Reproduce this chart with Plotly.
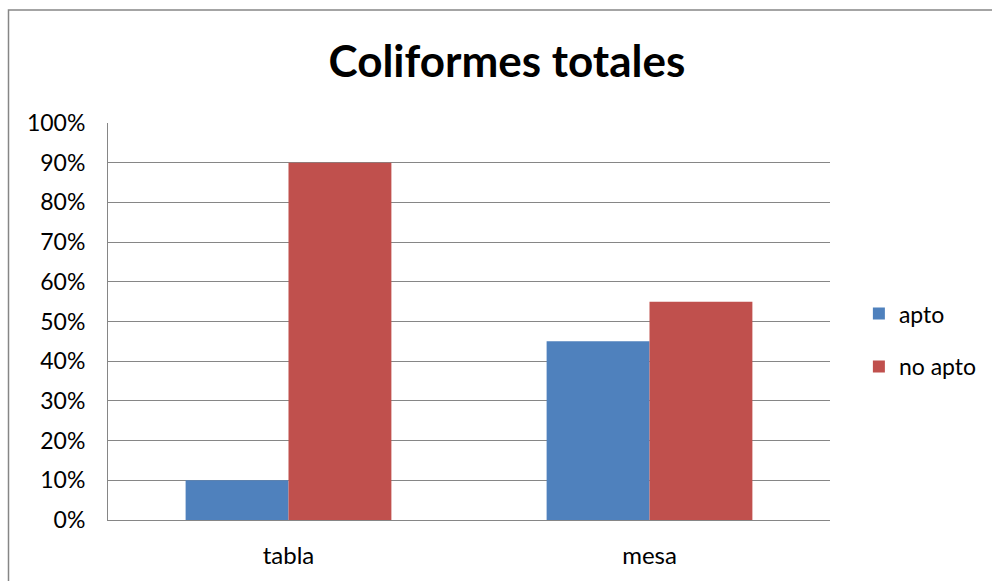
import plotly.graph_objects as go

categories = ["tabla", "mesa"]
apto = [0.10, 0.45]
no_apto = [0.90, 0.55]
series_names = ["apto", "no apto"]
colors = ["#4F81BD", "#C0504D"]
tick_vals = [i / 10 for i in range(11)]
tick_text = [f"{i*10}%" for i in range(11)]

font_family = "Lato, 'Open Sans', sans-serif"

fig = go.Figure()
for name, vals, col in zip(series_names, [apto, no_apto], colors):
    fig.add_trace(go.Bar(x=categories, y=vals, name=name, marker_color=col,
                         marker_line_width=0, legendgroup=name))

fig.update_layout(
    width=992, height=581,
    margin=dict(l=108, r=162, t=123, b=61, autoexpand=False),
    paper_bgcolor="white", plot_bgcolor="white",
    barmode="group", bargap=0.43, bargroupgap=0,
    title=dict(text="<b>Coliformes totales</b>", x=0.511, xanchor="center",
               y=1 - 62 / 581, yref="container", yanchor="middle",
               font=dict(family=font_family, size=44, color="black")),
    font=dict(family=font_family, size=23, color="black"),
    legend=dict(x=1.04, xanchor="left", y=0.453, yanchor="middle",
                font=dict(size=23), tracegroupgap=20, itemwidth=30,
                bgcolor="rgba(0,0,0,0)"),
    showlegend=True,
)
fig.update_yaxes(range=[0, 1], tickvals=tick_vals, ticktext=tick_text,
                 tickfont=dict(size=23),
                 showgrid=True, gridcolor="#868686", gridwidth=1,
                 showline=True, linecolor="#868686", linewidth=1,
                 ticks="", ticklabelstandoff=17, zeroline=False)
fig.update_xaxes(showline=True, linecolor="#868686", linewidth=1,
                 tickfont=dict(size=24), ticks="", ticklabelstandoff=14)
fig.add_shape(type="rect", xref="paper", yref="paper",
              x0=(8.5 - 108) / 722, x1=(1100 - 108) / 722,
              y0=(520 - 700) / 397, y1=(520 - 10) / 397,
              line=dict(color="#868686", width=1.5), fillcolor="rgba(0,0,0,0)",
              layer="below")

fig.write_html("out.html")
